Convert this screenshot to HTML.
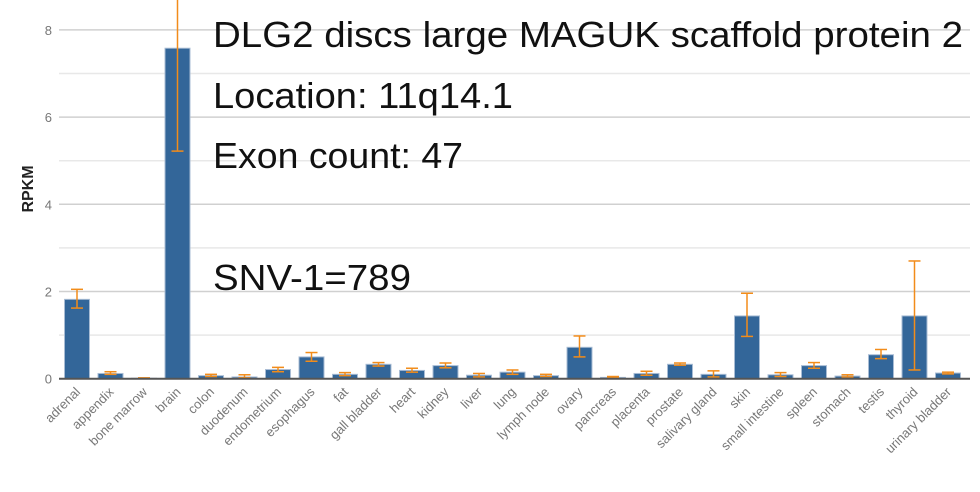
<!DOCTYPE html>
<html><head><meta charset="utf-8"><style>
body{margin:0;background:#fff;}
svg{display:block;font-family:"Liberation Sans",sans-serif;}
</style></head><body>
<svg id="chart" width="980" height="492" viewBox="0 0 980 492">
<g id="grid"></g>
<g id="bars"></g>
<g id="errs"></g>
<line x1="59" x2="970" y1="378.7" y2="378.7" stroke="#555" stroke-width="2"/>
<g id="yticks"></g>
<g id="xticks"></g>
<text transform="translate(33,189) rotate(-90)" text-anchor="middle" font-weight="bold" font-size="16" fill="#222">RPKM</text>
<g font-size="36" fill="#111" font-family="'Liberation Sans','Noto Sans CJK JP',sans-serif">
<text x="213" y="47" textLength="750" lengthAdjust="spacingAndGlyphs">DLG2 discs large MAGUK scaffold protein 2</text>
<text x="213" y="108" textLength="300" lengthAdjust="spacingAndGlyphs">Location: 11q14.1</text>
<text x="213" y="168" textLength="250" lengthAdjust="spacingAndGlyphs">Exon count: 47</text>
<text x="213" y="290" textLength="198" lengthAdjust="spacingAndGlyphs">SNV-1=789</text>
</g>
</svg>
<script>
const categories=["adrenal","appendix","bone marrow","brain","colon","duodenum","endometrium","esophagus","fat","gall bladder","heart","kidney","liver","lung","lymph node","ovary","pancreas","placenta","prostate","salivary gland","skin","small intestine","spleen","stomach","testis","thyroid","urinary bladder"];
const values=[1.82,0.12,0.01,7.58,0.07,0.04,0.21,0.5,0.1,0.33,0.19,0.3,0.08,0.15,0.07,0.72,0.03,0.12,0.33,0.1,1.44,0.09,0.3,0.06,0.55,1.44,0.13];
const errLow=[1.62,0.1,0.0,5.22,0.05,0.02,0.16,0.4,0.07,0.29,0.15,0.25,0.04,0.1,0.05,0.5,0.02,0.08,0.31,0.04,0.97,0.05,0.24,0.04,0.46,0.2,0.11];
const errHigh=[2.05,0.16,0.02,10.0,0.1,0.09,0.26,0.6,0.14,0.37,0.24,0.36,0.12,0.2,0.1,0.98,0.05,0.17,0.36,0.18,1.96,0.14,0.37,0.09,0.67,2.7,0.15];
const yTicks=[0,2,4,6,8];
const yMinor=[1,3,5,7];
const NS="http://www.w3.org/2000/svg";
const y0=378.7,pxU=43.6,x0=77,step=33.5,bw=25,plotTop=0;
const yS=v=>Math.max(y0-v*pxU,plotTop);
const xS=i=>x0+i*step;
function mk(tag,attrs,parent){const e=document.createElementNS(NS,tag);for(const k in attrs)e.setAttribute(k,attrs[k]);parent.appendChild(e);return e;}
const G=document.getElementById('grid'),B=document.getElementById('bars'),E=document.getElementById('errs'),YT=document.getElementById('yticks'),XT=document.getElementById('xticks');
yMinor.forEach(v=>{const l=mk('line',{x1:59,x2:970,y1:yS(v),y2:yS(v),stroke:'#e8e8e8','stroke-width':1.5},G);

});
yTicks.forEach(v=>{if(v>0){const l=mk('line',{x1:59,x2:970,y1:yS(v),y2:yS(v),stroke:'#d0d0d0','stroke-width':1.5},G);

}
const t=mk('text',{x:52,y:yS(v)+5,'text-anchor':'end','font-size':13,fill:'#777'},YT);t.textContent=v;

});
categories.forEach((c,i)=>{const x=xS(i),y=yS(values[i]);
const r=mk('rect',{x:x-bw/2,y:y,width:bw,height:y0-y,fill:'#336699',stroke:'#a8bcd4','stroke-width':1},B);


const yl=yS(errLow[i]),yh=yS(errHigh[i]);
const g=mk('g',{stroke:'#f28c1a','stroke-width':1.5},E);


mk('line',{x1:x,x2:x,y1:yl,y2:yh},g);
mk('line',{x1:x-6,x2:x+6,y1:yl,y2:yl},g);
if(errHigh[i]<9)mk('line',{x1:x-6,x2:x+6,y1:yh,y2:yh},g);
const t=mk('text',{transform:`translate(${x+4},${y0+14}) rotate(-45)`,'text-anchor':'end','font-size':13,fill:'#777'},XT);t.textContent=c;

});
</script>
</body></html>
